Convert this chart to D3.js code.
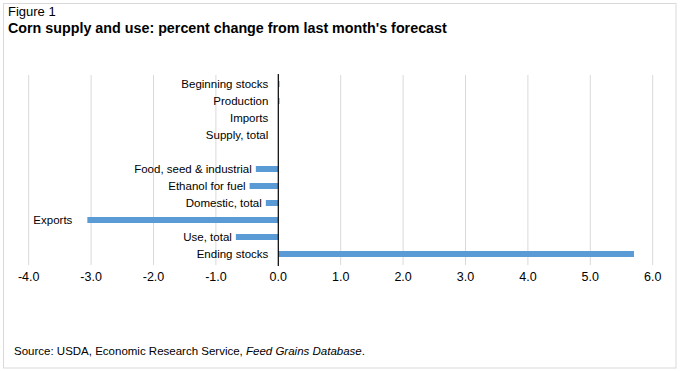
<html>
<head>
  <meta charset="utf-8">
  <title>Corn supply and use</title>
  <style>
    body { margin: 0; background: #fff; }
    text { font-family: "Liberation Sans", Arial, sans-serif; }
  </style>
</head>
<body>
  <script src="https://cdn.jsdelivr.net/npm/d3@7/dist/d3.min.js"></script>
  <script>
    // categories top to bottom, "" is the empty gap row
    var categories = ["Beginning stocks", "Production", "Imports", "Supply, total", "",
      "Food, seed & industrial", "Ethanol for fuel", "Domestic, total", "Exports", "Use, total", "Ending stocks"]
    var values = [0.02, 0.02, 0, 0, null, -0.36, -0.46, -0.2, -3.06, -0.68, 5.7]
    var ticks = [-4, -3, -2, -1, 0, 1, 2, 3, 4, 5, 6]

    var width = 680, height = 371
    var svg = d3.select("body").append("svg")
      .attr("width", width)
      .attr("height", height)

    // outer border
    svg.append("rect")
      .attr("x", 3.5).attr("y", 3.5)
      .attr("width", 672.5).attr("height", 364.5)
      .attr("fill", "none")
      .attr("stroke", "#d9d9d9")

    svg.append("text").text("Figure 1")
      .attr("x", 8).attr("y", 16)
      .attr("font-size", "13px").attr("fill", "#000")
    svg.append("text").text("Corn supply and use: percent change from last month's forecast")
      .attr("x", 8).attr("y", 32.5)
      .attr("font-size", "14.3px").attr("font-weight", "bold").attr("fill", "#000")

    var x = d3.scaleLinear().domain([-4, 6]).range([28.7, 652.7])
    var y = d3.scaleBand().domain(categories.map((d, i) => i)).range([75.5, 262.5])

    // gridlines
    svg.append("g").selectAll("line")
      .data(ticks.filter(t => t != 0))
      .enter().append("line")
      .attr("x1", d => x(d)).attr("x2", d => x(d))
      .attr("y1", 75).attr("y2", 265)
      .attr("stroke", "#d9d9d9").attr("stroke-width", 1)

    // tick labels (plain hyphen for minus, like the original)
    svg.append("g").selectAll("text")
      .data(ticks)
      .enter().append("text")
      .attr("x", d => x(d)).attr("y", 280.5)
      .attr("text-anchor", "middle")
      .attr("font-size", "12.5px").attr("fill", "#000")
      .text(d => d.toFixed(1))

    var bars = categories.map((c, i) => ({ name: c, v: values[i], i: i })).filter(d => d.v != null)

    svg.append("g").selectAll("rect")
      .data(bars)
      .enter().append("rect")
      .attr("x", d => x(Math.min(0, d.v)))
      .attr("width", d => Math.abs(x(d.v) - x(0)))
      .attr("y", d => y(d.i) + y.bandwidth() / 2 - 3)
      .attr("height", 6)
      .attr("fill", "#5b9bd5")

    // zero axis
    svg.append("line")
      .attr("x1", x(0)).attr("x2", x(0))
      .attr("y1", 74).attr("y2", 266)
      .attr("stroke", "#000").attr("stroke-width", 1.2)

    // category labels, next to the bar end (left side)
    svg.append("g").selectAll("text")
      .data(bars)
      .enter().append("text")
      .attr("x", function (d) {
        if (d.v < 0) return x(d.v) - (d.name == "Exports" ? 15 : 4)
        return x(0) - 10
      })
      .attr("y", d => y(d.i) + y.bandwidth() / 2 + 4)
      .attr("text-anchor", "end")
      .attr("font-size", "11.5px").attr("fill", "#000")
      .text(d => d.name)

    var src = svg.append("text")
      .attr("x", 14).attr("y", 355)
      .attr("font-size", "11.5px").attr("fill", "#000")
    src.append("tspan").text("Source: USDA, Economic Research Service, ")
    src.append("tspan").attr("font-style", "italic").text("Feed Grains Database")
    src.append("tspan").text(".")
  </script>
</body>
</html>
